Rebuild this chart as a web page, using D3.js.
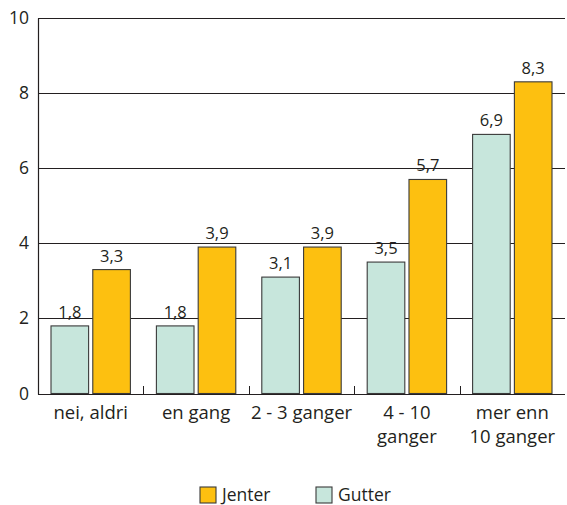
<!DOCTYPE html>
<html>
<head>
<meta charset="utf-8">
<script src="https://cdn.jsdelivr.net/npm/d3@7"></script>
<style>
  body { margin: 0; background: #fff; }
  text { font-family: "Open Sans", sans-serif; fill: #231f20; }
</style>
</head>
<body>
<script>
// chart data
var categories = ["nei, aldri", "en gang", "2 - 3 ganger", "4 - 10|ganger", "mer enn|10 ganger"];
var gutter = [1.8, 1.8, 3.1, 3.5, 6.9];
var jenter = [3.3, 3.9, 3.9, 5.7, 8.3];
var seriesNames = ["Gutter", "Jenter"];
var yTicks = [0, 2, 4, 6, 8, 10];

var w = 567, h = 505;
var plotLeft = 38, plotRight = 565, plotTop = 18, plotBottom = 393.5;

var svg = d3.select("body").append("svg")
    .attr("width", w)
    .attr("height", h);

var xScale = d3.scaleBand()
    .domain(d3.range(categories.length))
    .range([plotLeft, plotRight]);

var xInner = d3.scaleBand()
    .domain(seriesNames)
    .range([13, xScale.bandwidth() - 13])
    .paddingInner(0.1);

var yScale = d3.scaleLinear()
    .domain([0, 10])
    .range([plotBottom, plotTop]);

var colors = { Gutter: "#c7e6dc", Jenter: "#fdc010" };

// gridlines
svg.selectAll("line.grid")
    .data(yTicks)
    .enter()
    .append("line")
    .attr("x1", plotLeft)
    .attr("x2", plotRight)
    .attr("y1", d => Math.round(yScale(d)) + 0.5)
    .attr("y2", d => Math.round(yScale(d)) + 0.5)
    .attr("stroke", "#231f20")
    .attr("stroke-width", 1.2);

// y axis line
svg.append("line")
    .attr("x1", plotLeft + 0.5).attr("x2", plotLeft + 0.5)
    .attr("y1", Math.round(yScale(10)) + 0.5)
    .attr("y2", Math.round(yScale(0)) + 0.5)
    .attr("stroke", "#231f20")
    .attr("stroke-width", 1.2);

// category separators (small ticks pointing up)
svg.selectAll("line.sep")
    .data(d3.range(1, categories.length))
    .enter()
    .append("line")
    .attr("x1", i => Math.round(xScale(i)) + 0.5)
    .attr("x2", i => Math.round(xScale(i)) + 0.5)
    .attr("y1", Math.round(yScale(0)))
    .attr("y2", Math.round(yScale(0)) - 8)
    .attr("stroke", "#231f20")
    .attr("stroke-width", 1);

// y tick labels
svg.selectAll("text.ytick")
    .data(yTicks)
    .enter()
    .append("text")
    .attr("x", 29)
    .attr("y", d => yScale(d) + 6)
    .attr("text-anchor", "end")
    .attr("font-size", "17.5px")
    .text(d => d);

// bars
var rows = [];
categories.forEach(function (c, i) {
    rows.push({ i: i, s: "Gutter", v: gutter[i] });
    rows.push({ i: i, s: "Jenter", v: jenter[i] });
});

svg.selectAll("rect.bar")
    .data(rows)
    .enter()
    .append("rect")
    .attr("x", d => xScale(d.i) + xInner(d.s))
    .attr("y", d => yScale(d.v))
    .attr("width", xInner.bandwidth())
    .attr("height", d => yScale(0) - yScale(d.v))
    .attr("fill", d => colors[d.s])
    .attr("stroke", "#3a3a3a")
    .attr("stroke-width", 1.1);

// value labels
svg.selectAll("text.val")
    .data(rows)
    .enter()
    .append("text")
    .attr("x", d => xScale(d.i) + xInner(d.s) + xInner.bandwidth() / 2)
    .attr("y", d => yScale(d.v) - 8)
    .attr("text-anchor", "middle")
    .attr("font-size", "16.5px")
    .text(d => String(d.v).replace(".", ","));

// category labels
svg.selectAll("text.cat")
    .data(categories)
    .enter()
    .append("text")
    .attr("text-anchor", "middle")
    .attr("font-size", "18.5px")
    .each(function (d, i) {
        var lines = d.split("|");
        var t = d3.select(this);
        lines.forEach(function (line, k) {
            t.append("tspan")
                .attr("x", xScale(i) + xScale.bandwidth() / 2)
                .attr("y", 419 + k * 24)
                .text(line);
        });
    });

// legend
var legend = [
    { name: "Jenter", x: 200 },
    { name: "Gutter", x: 316 }
];
var lg = svg.selectAll("g.legend")
    .data(legend)
    .enter()
    .append("g")
    .attr("transform", d => "translate(" + d.x + ",487)");

lg.append("rect")
    .attr("width", 16)
    .attr("height", 16)
    .attr("fill", d => colors[d.name])
    .attr("stroke", "#3a3a3a")
    .attr("stroke-width", 1.1);

lg.append("text")
    .attr("x", 22)
    .attr("y", 14)
    .attr("font-size", "17.5px")
    .text(d => d.name);
</script>
</body>
</html>
